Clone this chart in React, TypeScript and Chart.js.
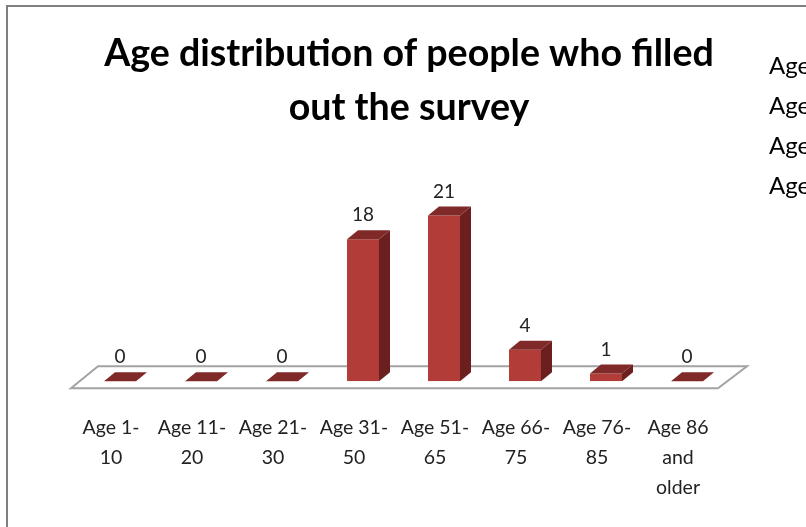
import React, { useEffect, useRef } from "react";
import { Chart, registerables } from "chart.js";

Chart.register(...registerables);

const categories: string[][] = [
  ["Age 1-", "10"],
  ["Age 11-", "20"],
  ["Age 21-", "30"],
  ["Age 31-", "50"],
  ["Age 51-", "65"],
  ["Age 66-", "75"],
  ["Age 76-", "85"],
  ["Age 86", "and", "older"],
];
const respondents: number[] = [0, 0, 0, 18, 21, 4, 1, 0];
const titleLines: string[] = ["Age distribution of people who filled", "out the survey"];
const sideNotes: string[] = ["Age", "Age", "Age", "Age"];

const FONT = "Lato, Carlito, Calibri, sans-serif";
const FRONT = "#b23c38";
const TOP = "#7f2a28";
const SIDE = "#6b201f";

const scene = {
  id: "scene3d",
  beforeDraw(chart: any) {
    const { ctx, width, height } = chart;
    ctx.save();
    ctx.fillStyle = "#ffffff";
    ctx.fillRect(0, 0, width, height);
    ctx.strokeStyle = "#7f7f7f";
    ctx.lineWidth = 2;
    ctx.beginPath();
    ctx.moveTo(7, height);
    ctx.lineTo(7, 6);
    ctx.lineTo(width, 6);
    ctx.stroke();
    ctx.fillStyle = "#000000";
    ctx.font = `24px ${FONT}`;
    ctx.textAlign = "left";
    ctx.textBaseline = "middle";
    sideNotes.forEach((t, i) => ctx.fillText(t, 769, 66 + i * 40));
    ctx.restore();
  },
  beforeDatasetsDraw(chart: any) {
    const { ctx, chartArea, scales } = chart;
    const base = scales.y.getPixelForValue(0);
    ctx.save();
    ctx.strokeStyle = "#a3a3a3";
    ctx.lineWidth = 2;
    ctx.beginPath();
    ctx.moveTo(chartArea.left - 8.5, base + 7);
    ctx.lineTo(chartArea.right - 9.5, base + 7);
    ctx.lineTo(chartArea.right + 19.5, base - 15);
    ctx.lineTo(chartArea.left + 18.5, base - 15);
    ctx.closePath();
    ctx.stroke();
    ctx.restore();
  },
  afterDatasetsDraw(chart: any) {
    const { ctx } = chart;
    const dx = 11;
    const dy = -9;
    ctx.save();
    chart.getDatasetMeta(0).data.forEach((bar: any, i: number) => {
      const l = bar.x - bar.width / 2;
      const r = bar.x + bar.width / 2;
      const t = bar.y;
      const b = bar.base;
      ctx.fillStyle = SIDE;
      ctx.beginPath();
      ctx.moveTo(r, t);
      ctx.lineTo(r + dx, t + dy);
      ctx.lineTo(r + dx, b + dy);
      ctx.lineTo(r, b);
      ctx.closePath();
      ctx.fill();
      ctx.fillStyle = TOP;
      ctx.beginPath();
      ctx.moveTo(l, t);
      ctx.lineTo(l + dx, t + dy);
      ctx.lineTo(r + dx, t + dy);
      ctx.lineTo(r, t);
      ctx.closePath();
      ctx.fill();
      ctx.fillStyle = "#222222";
      ctx.font = `19px ${FONT}`;
      ctx.textAlign = "center";
      ctx.textBaseline = "middle";
      ctx.fillText(String(respondents[i]), bar.x, t - 24);
    });
    ctx.restore();
  },
};

export default function App() {
  const ref = useRef<HTMLCanvasElement>(null);
  useEffect(() => {
    document.body.style.margin = "0";
    document.body.style.overflow = "hidden";
    const chart = new Chart(ref.current as HTMLCanvasElement, {
      type: "bar",
      data: {
        labels: categories,
        datasets: [
          {
            label: "People",
            data: respondents,
            backgroundColor: FRONT,
            borderWidth: 0,
            barPercentage: 0.395,
            categoryPercentage: 1,
          },
        ],
      },
      options: {
        responsive: false,
        animation: false,
        devicePixelRatio: 1,
        layout: { padding: { left: 12, right: 0, top: 0, bottom: 15.7 } },
        plugins: {
          legend: { display: false },
          tooltip: { enabled: false },
          title: {
            display: true,
            text: titleLines,
            color: "#000000",
            font: { family: FONT, size: 37.6, weight: "bold", lineHeight: 1.436 },
            padding: { top: 27, bottom: 49 },
          },
        },
        scales: {
          x: {
            grid: { display: false },
            border: { display: false },
            ticks: {
              autoSkip: false,
              maxRotation: 0,
              minRotation: 0,
              padding: 23,
              labelOffset: -9,
              color: "#222222",
              font: { family: FONT, size: 19.5, lineHeight: 1.54 },
            },
            afterFit(s: any) {
              s.height = 130;
            },
          },
          y: {
            min: 0,
            max: 25,
            grid: { display: false },
            border: { display: false },
            ticks: { display: false },
            afterFit(s: any) {
              s.width = 67.5;
            },
          },
          yRight: {
            position: "right",
            min: 0,
            max: 25,
            grid: { display: false },
            border: { display: false },
            ticks: { display: false },
            afterFit(s: any) {
              s.width = 78.5;
            },
          },
        },
      } as any,
      plugins: [scene],
    });
    return () => chart.destroy();
  }, []);
  return <canvas ref={ref} width={806} height={527} style={{ display: "block" }} />;
}
